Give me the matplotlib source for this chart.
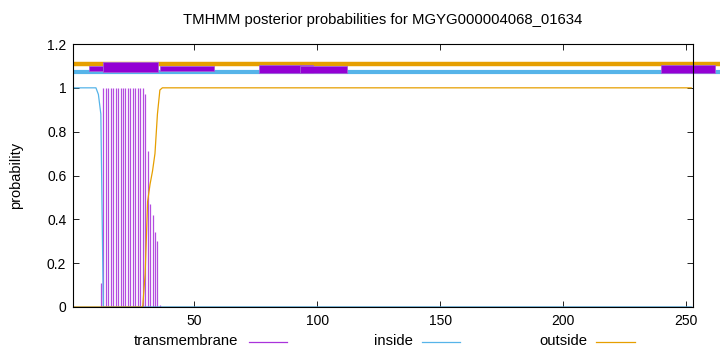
import matplotlib
matplotlib.use("Agg")
import matplotlib.pyplot as plt
from matplotlib.lines import Line2D
from matplotlib.patches import Rectangle

plt.rcParams['font.family'] = ['Liberation Sans', 'DejaVu Sans']

title = "TMHMM posterior probabilities for MGYG000004068_01634"
n_res = 252
residues = list(range(1, n_res + 1))

# posterior probabilities
inside = [1.0] * 10 + [0.97, 0.88, 0.0] + [0.0] * (n_res - 13)
outside = [0.0] * 29 + [0.15, 0.48, 0.56, 0.62, 0.70, 0.88, 0.99] + [1.0] * (n_res - 36)
transmembrane = [0.0] * 11 + [0.11] + [1.0] * 17 + [0.97, 0.71, 0.47, 0.42, 0.34, 0.30, 0.01] + [0.0] * (n_res - 36)

# topology boxes drawn above the plot (start, end, low, high)
box_start = [7.0, 12.9, 35.9, 76.2, 93.0, 239.7]
box_end = [12.9, 35.1, 58.0, 98.1, 112.1, 261.7]
box_low = [1.079, 1.070, 1.079, 1.067, 1.067, 1.068]
box_high = [1.100, 1.117, 1.100, 1.105, 1.100, 1.105]
outside_band = 1.111
inside_band = 1.073

xticks = [50, 100, 150, 200, 250]
yticks = [0, 0.2, 0.4, 0.6, 0.8, 1.0, 1.2]
ytick_labels = ["0", "0.2", "0.4", "0.6", "0.8", "1", "1.2"]

c_tm = '#9400d3'
c_in = '#56b4e9'
c_out = '#e69f00'

fig = plt.figure(figsize=(7.2, 3.52), dpi=100)
W, H = 720, 352
ax = fig.add_axes([73.3 / W, 1 - 307 / H, (692.7 - 73.3) / W, (307 - 44) / H])
ax.set_xlim(0.8, 252.6)
ax.set_ylim(0, 1.2)

# bands at top (extend past the right border)
ax.plot([0.8, 264], [outside_band, outside_band], color=c_out, lw=3.2, clip_on=False,
        solid_capstyle='butt', zorder=3)
ax.plot([0.8, 264], [inside_band, inside_band], color=c_in, lw=3.0, clip_on=False,
        solid_capstyle='butt', zorder=3)
for s, e, lo, hi in zip(box_start, box_end, box_low, box_high):
    ax.add_patch(Rectangle((s, lo), e - s, hi - lo, facecolor=c_tm, edgecolor='#a55fd6',
                           lw=0.6, clip_on=False, zorder=4))

# transmembrane impulses
ax.vlines(residues, 0, transmembrane, color=c_tm, lw=0.9, alpha=0.7, zorder=2)
ax.plot(residues, inside, color=c_in, lw=0.9, zorder=2)
ax.plot(residues, outside, color=c_out, lw=0.9, zorder=2)
ax.axhline(0, color='#3f6580', lw=1.0, zorder=2)

ax.set_xticks(xticks)
ax.set_yticks(yticks)
ax.set_yticklabels(ytick_labels)
ax.tick_params(direction='in', length=4, width=0.6, labelsize=10, top=True, right=True,
               pad=5)
for sp in ax.spines.values():
    sp.set_linewidth(0.8)
    sp.set_zorder(5)

fig.text(382.5 / W, 1 - 20 / H, title, ha='center', va='center', fontsize=10.7)
fig.text(16 / W, 1 - 175 / H, "probability", rotation=90, ha='center', va='center', fontsize=10.5)

# legend
leg_y = 1 - 341 / H
for label, tx, x0, x1, col in [("transmembrane", 238.5, 248.5, 287, c_tm),
                               ("inside", 412.7, 422, 460.5, c_in),
                               ("outside", 587, 596.4, 635, c_out)]:
    fig.text(tx / W, leg_y, label, ha='right', va='center', fontsize=10.7)
    fig.add_artist(Line2D([x0 / W, x1 / W], [leg_y - 1 / H, leg_y - 1 / H], color=col, lw=0.9,
                          alpha=0.8 if col == c_tm else 1.0))

fig.savefig("out.png", dpi=100)
